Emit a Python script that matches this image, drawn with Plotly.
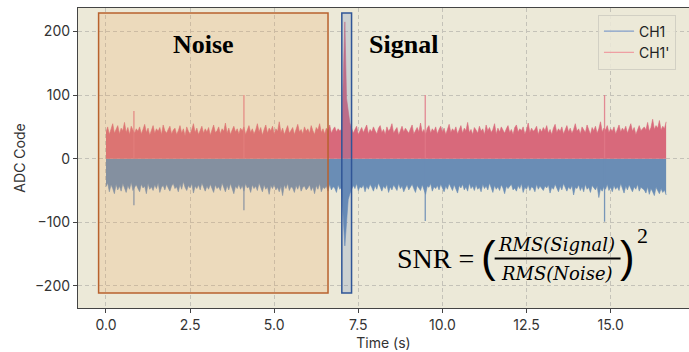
import numpy as np
import plotly.graph_objects as go

# ---------------- data ----------------
sample_step = 0.05  # s between envelope samples

ch1_prime = [  # CH1' (positive envelope), 0.00 .. 16.65 s
    42, 50, 38, 47, 55, 40, 46, 52, 39, 48, 44, 57, 41, 49, 38, 51, 45, 40, 47, 43,
    50, 39, 46, 54, 41, 48, 37, 45, 52, 40, 47, 43, 49, 38, 53, 44, 40, 46, 51, 39,
    45, 48, 38, 44, 52, 40, 47, 36, 50, 43, 39, 46, 55, 41, 48, 38, 45, 51, 40, 47,
    42, 49, 37, 46, 53, 41, 44, 50, 39, 47, 43, 56, 40, 48, 38, 45, 51, 42, 47, 39,
    48, 44, 50, 38, 46, 52, 41, 47, 39, 45, 55, 42, 49, 37, 46, 53, 40, 48, 44, 51,
    39, 47, 43, 58, 41, 48, 38, 46, 52, 40, 45, 49, 38, 47, 54, 42, 46, 39, 50, 43,
    47, 40, 52, 44, 38, 49, 45, 55, 41, 47, 39, 48, 44, 53, 40, 46, 50, 42, 47, 44,
    46, 120, 215, 95, 70, 56, 48, 40, 46, 51, 38, 45, 49, 41, 47, 53, 39, 46, 42, 50,
    44, 39, 48, 52, 41, 46, 38, 50, 43, 47, 55, 40, 45, 49, 37, 46, 51, 42, 48, 44,
    40, 47, 53, 39, 45, 49, 42, 56, 41, 46, 38, 48, 52, 40, 47, 43, 50, 39, 46, 51,
    42, 48, 38, 45, 54, 41, 47, 43, 50, 39, 46, 52, 40, 48, 44, 57, 41, 46, 38, 49,
    45, 40, 51, 43, 47, 38, 53, 44, 49, 41, 46, 55, 39, 48, 42, 50, 45, 40, 47, 52,
    41, 46, 38, 49, 53, 42, 47, 44, 50, 39, 45, 56, 41, 48, 43, 46, 51, 38, 47, 42,
    49, 44, 52, 40, 46, 38, 48, 54, 41, 47, 43, 50, 39, 45, 52, 42, 48, 40, 46, 55,
    43, 47, 39, 50, 45, 41, 53, 46, 38, 49, 44, 51, 40, 47, 58, 42, 48, 45, 52, 41,
    47, 43, 50, 39, 46, 53, 42, 48, 44, 51, 40, 47, 55, 43, 49, 38, 46, 52, 44, 48,
    50, 45, 57, 43, 49, 62, 46, 52, 48, 60, 45, 51, 47, 58,
]

ch1 = [  # CH1 (negative envelope), 0.00 .. 16.65 s
    -44, -38, -52, -41, -47, -55, -40, -49, -43, -51, -39, -46, -53, -42, -48, -37, -50, -45, -41, -47,
    -52, -40, -46, -43, -55, -39, -48, -44, -50, -41, -47, -38, -53, -45, -42, -49, -40, -46, -51, -43,
    -39, -47, -44, -52, -40, -48, -36, -45, -50, -42, -46, -39, -54, -43, -47, -41, -49, -38, -45, -51,
    -43, -48, -40, -46, -53, -41, -47, -44, -50, -38, -45, -52, -42, -49, -39, -46, -55, -43, -47, -40,
    -48, -42, -51, -39, -46, -44, -53, -41, -47, -43, -50, -38, -46, -52, -41, -48, -44, -56, -42, -47,
    -40, -49, -45, -52, -43, -58, -41, -47, -39, -50, -44, -46, -53, -42, -48, -40, -51, -45, -43, -49,
    -46, -41, -50, -44, -55, -42, -48, -39, -52, -45, -47, -43, -51, -40, -49, -44, -46, -53, -41, -48,
    -45, -85, -137, -100, -64, -55, -49, -42, -47, -39, -50, -44, -46, -41, -52, -43, -48, -40, -45, -51,
    -42, -48, -38, -46, -51, -43, -47, -40, -53, -44, -49, -41, -45, -50, -39, -47, -43, -52, -46, -41,
    -49, -44, -40, -47, -53, -42, -46, -50, -41, -48, -56, -43, -45, -39, -51, -44, -47, -42, -49, -40,
    -46, -52, -43, -48, -39, -45, -50, -41, -47, -54, -42, -46, -40, -49, -44, -51, -38, -47, -43, -50,
    -41, -48, -45, -52, -40, -47, -43, -49, -38, -46, -53, -42, -48, -44, -50, -41, -46, -55, -43, -47,
    -44, -40, -49, -46, -51, -42, -47, -39, -53, -45, -48, -41, -50, -44, -46, -52, -40, -48, -43, -47,
    -50, -43, -46, -41, -54, -45, -48, -40, -47, -52, -43, -49, -39, -46, -51, -44, -48, -42, -57, -45,
    -47, -41, -50, -44, -52, -40, -48, -45, -53, -42, -46, -49, -43, -61, -47, -51, -44, -48, -40, -50,
    -45, -52, -42, -48, -44, -50, -39, -47, -54, -43, -49, -41, -46, -52, -44, -48, -40, -51, -45, -47,
    -49, -54, -44, -56, -47, -52, -58, -45, -50, -55, -47, -53, -49, -57,
]

spike_t = [0.83, 4.10, 9.49, 14.82]
spike_pos = [75, 100, 100, 100]
spike_neg = [-73, -81, -98, -99]

noise_window = [-0.22, 6.60]
signal_window = [7.01, 7.30]
window_y = [-211, 229]

x_ticks = [0.0, 2.5, 5.0, 7.5, 10.0, 12.5, 15.0]
y_ticks = [-200, -100, 0, 100, 200]

# ---------------- figure ----------------
t = np.round(np.arange(len(ch1)) * sample_step, 2)

BLUE = "#6A8DB5"
RED = "#D8697B"

fig = go.Figure()
fig.add_trace(go.Scatter(x=t, y=ch1, mode="lines", fill="tozeroy",
                         fillcolor=BLUE, line=dict(color=BLUE, width=0.6),
                         showlegend=False, hoverinfo="skip"))
fig.add_trace(go.Scatter(x=t, y=ch1_prime, mode="lines", fill="tozeroy",
                         fillcolor=RED, line=dict(color=RED, width=0.6),
                         showlegend=False, hoverinfo="skip"))

sx, sp, sn = [], [], []
for ts, hp, hn in zip(spike_t, spike_pos, spike_neg):
    sx += [ts, ts, None]
    sp += [0, hp, None]
    sn += [0, hn, None]
fig.add_trace(go.Scatter(x=sx, y=sn, mode="lines", line=dict(color="rgba(106,141,181,0.9)", width=1.3),
                         showlegend=False, hoverinfo="skip"))
fig.add_trace(go.Scatter(x=sx, y=sp, mode="lines", line=dict(color="rgba(225,120,135,0.85)", width=1.3),
                         showlegend=False, hoverinfo="skip"))

# legend-only entries
fig.add_trace(go.Scatter(x=[None], y=[None], mode="lines", name="CH1",
                         line=dict(color="rgba(106,141,200,0.8)", width=1.3)))
fig.add_trace(go.Scatter(x=[None], y=[None], mode="lines", name="CH1'",
                         line=dict(color="rgba(240,140,150,0.8)", width=1.3)))

fig.add_shape(type="rect", x0=noise_window[0], x1=noise_window[1], y0=window_y[0], y1=window_y[1],
              xref="x", yref="y", layer="above",
              fillcolor="rgba(240,160,80,0.20)", line=dict(color="#B8622E", width=1.5))
fig.add_shape(type="rect", x0=signal_window[0], x1=signal_window[1], y0=window_y[0], y1=window_y[1],
              xref="x", yref="y", layer="above",
              fillcolor="rgba(90,125,185,0.22)", line=dict(color="#2F5597", width=1.5))

# labels
fig.add_annotation(x=2.91, y=180, text="<b>Noise</b>", showarrow=False,
                   font=dict(family="Liberation Serif", size=26, color="black"))
fig.add_annotation(x=8.84, y=180, text="<b>Signal</b>", showarrow=False,
                   font=dict(family="Liberation Serif", size=26, color="black"))

# SNR formula, placed in pixel-derived data positions
def px_x(px):
    return (px - 106) / 33.67

def px_y(py):
    return (159.3 - py) / 0.6365

fig.add_annotation(x=px_x(476), y=px_y(259), text="SNR =", showarrow=False, xanchor="right",
                   font=dict(family="Liberation Serif", size=28, color="black"))
fig.add_annotation(x=px_x(489), y=px_y(257), text="(", showarrow=False,
                   font=dict(family="Liberation Sans", size=44, color="black"))
fig.add_annotation(x=px_x(628), y=px_y(257), text=")", showarrow=False,
                   font=dict(family="Liberation Sans", size=44, color="black"))
fig.add_annotation(x=px_x(557), y=px_y(245), text="<i>RMS(Signal)</i>", showarrow=False,
                   font=dict(family="DejaVu Serif", size=18, color="black"))
fig.add_annotation(x=px_x(557), y=px_y(274), text="<i>RMS(Noise)</i>", showarrow=False,
                   font=dict(family="DejaVu Serif", size=18, color="black"))
fig.add_shape(type="line", x0=px_x(495), x1=px_x(621), y0=px_y(259), y1=px_y(259),
              xref="x", yref="y", line=dict(color="black", width=2))
fig.add_annotation(x=px_x(643), y=px_y(236), text="2", showarrow=False,
                   font=dict(family="Liberation Serif", size=22, color="black"))

fig.update_layout(
    width=689, height=352,
    margin=dict(l=78, r=0, t=8, b=44),
    paper_bgcolor="white",
    plot_bgcolor="#ECE9D8",
    font=dict(family="Inter", size=14, color="#333333"),
    legend=dict(x=0.851, y=0.978, xanchor="left", yanchor="top",
                bgcolor="rgba(236,233,216,0.85)", bordercolor="#D2D0C4", borderwidth=1,
                font=dict(size=14, color="#222222"), tracegroupgap=2),
    showlegend=True,
)
fig.update_xaxes(range=[-0.832, 17.33], tickvals=x_ticks, ticktext=[f"{v:.1f}" for v in x_ticks],
                 showgrid=True, gridcolor="#C4C2B8", griddash="4px,3px", gridwidth=1,
                 showline=True, linecolor="#444444", linewidth=1.3, mirror=True,
                 ticks="outside", ticklen=4, tickcolor="#444444", zeroline=False,
                 title=dict(text="Time (s)", standoff=6, font=dict(size=14)))
fig.update_yaxes(range=[-234.6, 236.8], tickvals=y_ticks,
                 showgrid=True, gridcolor="#C4C2B8", griddash="4px,3px", gridwidth=1,
                 showline=True, linecolor="#444444", linewidth=1.3,
                 ticks="outside", ticklen=4, tickcolor="#444444", zeroline=False,
                 title=dict(text="ADC Code", standoff=6, font=dict(size=14)))

fig.write_html("out.html")
